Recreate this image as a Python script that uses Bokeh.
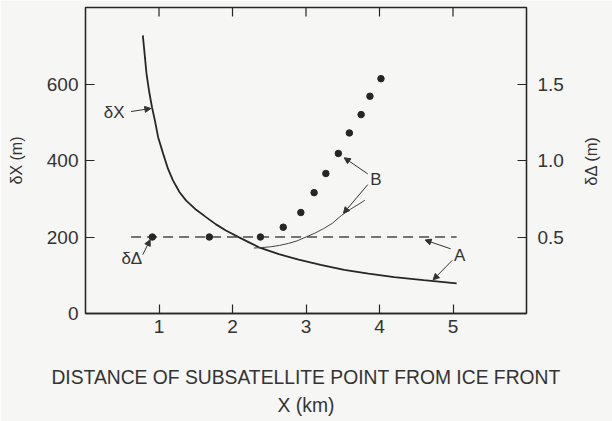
import math
from bokeh.plotting import figure
from bokeh.models import (LinearAxis, Range1d, FixedTicker, Label, Arrow,
                          NormalHead, NumeralTickFormatter, CustomJSTickFormatter)
from bokeh.embed import file_html
from bokeh.resources import INLINE

# ---- data ----
dist_dx = [0.78, 0.83, 0.867, 0.906, 0.944, 0.988, 1.056, 1.123, 1.19, 1.28,
           1.37, 1.506, 1.64, 1.775, 1.91, 2.09, 2.225, 2.36, 2.63, 2.90,
           3.20, 3.52, 3.85, 4.20, 4.60, 5.05]
dx_m = [727, 627, 579, 538, 505, 461, 418, 378, 348, 317,
        295, 271, 252, 233, 217, 199, 186, 173, 155, 141,
        127, 114, 104, 95, 87, 79]

dist_b = [2.29, 2.40, 2.52, 2.64, 2.76, 2.88, 3.00, 3.12, 3.24, 3.36,
          3.48, 3.60, 3.72, 3.80]
curve_b = [0.428, 0.431, 0.436, 0.445, 0.458, 0.475, 0.50, 0.525, 0.555, 0.59,
           0.64, 0.68, 0.715, 0.74]

dist_dots = [0.91, 1.685, 2.38, 2.69, 2.93, 3.11, 3.27, 3.44, 3.59, 3.75, 3.87, 4.02]
ddelta_m = [0.5, 0.5, 0.5, 0.564, 0.66, 0.79, 0.915, 1.046, 1.18, 1.30, 1.42, 1.535]

line_a_x = [0.62, 5.05]
line_a_y = [0.5, 0.5]

x_ticks = [1, 2, 3, 4, 5]
left_ticks = [0, 200, 400, 600]
right_ticks = [0.5, 1.0, 1.5]
y_top = 800

FONT = "Liberation Sans"
INK = "#262626"
TXT = "#333333"
BG = "#f6f6f4"

p = figure(width=612, height=421, output_backend="svg", toolbar_location=None,
           x_range=Range1d(0, 6), y_range=Range1d(0, y_top),
           x_axis_location=None, y_axis_location=None,
           min_border_left=85, min_border_right=82, min_border_top=7,
           min_border_bottom=108)
p.extra_y_ranges = {"dd": Range1d(0, 2)}
p.background_fill_color = BG
p.border_fill_color = BG
p.outline_line_color = INK
p.outline_line_width = 1.3
p.grid.visible = False


def style(ax, size="19px"):
    ax.axis_line_color = INK
    ax.axis_line_width = 1.3
    ax.major_tick_line_color = INK
    ax.major_tick_line_width = 1.2
    ax.major_tick_in = 9
    ax.major_tick_out = 0
    ax.minor_tick_line_color = None
    ax.major_label_text_font = FONT
    ax.major_label_text_font_size = size
    ax.major_label_text_color = TXT
    ax.axis_label_text_font = FONT
    ax.axis_label_text_font_style = "normal"
    ax.axis_label_text_color = TXT


xb = LinearAxis(ticker=FixedTicker(ticks=x_ticks),
                axis_label="DISTANCE OF SUBSATELLITE POINT FROM ICE FRONT\nX (km)")
style(xb)
xb.major_label_standoff = 6
xb.axis_label_standoff = 31
xb.axis_label_text_font_size = "19.3px"
xb.axis_label_text_line_height = 1.38
p.add_layout(xb, "below")

yl = LinearAxis(ticker=FixedTicker(ticks=left_ticks), axis_label="δX (m)")
style(yl)
yl.major_label_standoff = 7
yl.axis_label_standoff = 19
yl.axis_label_text_font_size = "16px"
p.add_layout(yl, "left")

yr = LinearAxis(y_range_name="dd", ticker=FixedTicker(ticks=right_ticks),
                formatter=NumeralTickFormatter(format="0.0"))
style(yr)
yr.major_label_standoff = 11
p.add_layout(yr, "right")

# right-hand title "δΔ (m)", reading bottom-to-top; drawn as the single
# rotated label of an otherwise invisible outer axis (text starts at its tick)
title_start = 0.835
yt = LinearAxis(y_range_name="dd", ticker=FixedTicker(ticks=[title_start]),
                formatter=CustomJSTickFormatter(code="return 'δΔ (m)'"))
style(yt, "16.5px")
yt.axis_line_color = None
yt.major_tick_line_color = None
yt.major_tick_in = 0
yt.major_label_standoff = 25
yt.major_label_orientation = math.pi / 2
p.add_layout(yt, "right")

# top-edge ticks (inward), drawn as short vertical dashes clipped by the frame
p.scatter(x_ticks, [y_top] * len(x_ticks), marker="dash", angle=math.pi / 2,
          size=18, line_color=INK, line_width=1.2)

# ---- series ----
p.line(dist_dx, dx_m, line_width=1.8, line_color=INK)
p.line(line_a_x, line_a_y, y_range_name="dd", line_width=1.5,
       line_color="#4a4a4a", line_dash="10 6")
p.line(dist_b, curve_b, y_range_name="dd", line_width=1.0, line_color="#444444")
p.scatter(dist_dots, ddelta_m, y_range_name="dd", size=6.5,
          fill_color=INK, line_color=INK)


# ---- annotations ----
def lab(x, y, t):
    p.add_layout(Label(x=x, y=y, text=t, text_align="center",
                       text_baseline="middle", text_font=FONT,
                       text_font_size="17px", text_color=TXT))


def arr(x0, y0, x1, y1):
    p.add_layout(Arrow(end=NormalHead(size=6, fill_color="#333333",
                                      line_color="#333333", line_width=1),
                       x_start=x0, y_start=y0, x_end=x1, y_end=y1,
                       line_width=1, line_color="#333333"))


lab(0.39, 525, "δX")
arr(0.62, 528, 0.89, 536)
lab(0.63, 144, "δΔ")
arr(0.78, 154, 0.88, 193)
lab(3.95, 350, "B")
arr(3.84, 365, 3.52, 407)
arr(3.84, 337, 3.51, 262)
lab(5.09, 152, "A")
arr(4.97, 169, 4.62, 192)
arr(4.99, 139, 4.73, 88)

open("out.html", "w").write(file_html(p, INLINE))
